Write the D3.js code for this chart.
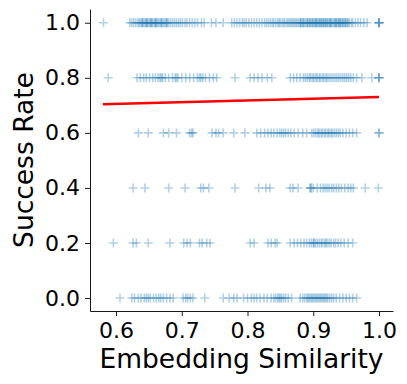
<!DOCTYPE html>
<html>
<head>
<meta charset="utf-8">
<script src="https://cdn.jsdelivr.net/npm/d3@7"></script>
<style>
  body { margin: 0; background: #fff; }
  text { font-family: 'DejaVu Sans', sans-serif; }
</style>
</head>
<body>
<script>
// success-rate levels and the embedding similarities observed at each level
let rateLevels = [1.0, 0.8, 0.6, 0.4, 0.2, 0.0]

let simAt100 = [0.581,
  0.621,0.624,0.627,0.63,0.633,0.635,0.637,0.64,0.641,0.643,0.645,0.647,0.648,0.65,0.652,0.654,0.655,0.657,0.659,0.66,
  0.662,0.664,0.666,0.668,0.67,0.672,0.674,0.676,0.678,0.68,0.683,0.686,0.689,0.692,0.695,0.698,0.701,0.705,0.708,0.712,
  0.639,0.646,0.653,0.661,0.669,0.677,
  0.716,0.72,0.724,0.73,0.734,0.745,0.752,0.763,0.776,0.78,0.784,0.788,0.792,0.795,0.798,0.802,0.806,0.81,0.814,0.818,
  0.822,0.826,0.829,0.832,0.835,0.838,0.84,0.843,0.846,0.848,0.85,0.853,0.855,0.857,0.86,0.862,0.864,0.866,0.868,0.87,
  0.872,0.874,0.876,0.878,0.88,0.882,0.884,0.886,0.888,0.89,0.892,0.894,0.896,0.898,0.9,0.902,0.904,0.906,0.908,0.91,
  0.912,0.914,0.916,0.918,0.92,0.922,0.924,0.926,0.928,0.93,0.932,0.934,0.936,0.938,0.94,0.942,0.944,0.946,0.948,0.95,
  0.952,0.955,0.958,0.96,0.885,0.895,0.905,0.915,0.925,0.935,0.945,0.912,0.921,0.933,0.941,0.903,
  0.881,0.891,0.899,0.909,0.918,0.927,0.939,0.949,0.953,
  0.964,0.968,0.972,0.977,0.982,1.0,1.0,1.0,1.0]

let simAt80 = [0.588,
  0.632,0.637,0.642,0.646,0.651,0.656,0.66,0.664,0.667,0.669,0.671,0.675,0.68,0.686,0.69,0.692,0.694,0.7,0.706,0.712,
  0.718,0.724,0.727,0.729,0.732,0.736,0.742,0.748,0.753,0.781,0.804,0.81,0.816,0.822,0.83,0.837,
  0.865,0.87,0.875,0.88,0.885,0.888,0.891,0.894,0.896,0.899,0.901,0.904,0.906,0.909,0.911,0.914,0.916,0.919,0.921,
  0.924,0.927,0.93,0.933,0.936,0.939,0.942,0.945,0.948,0.951,0.954,0.957,0.961,0.966,0.974,0.989,1.0,1.0,1.0]

let simAt60 = [0.634,0.649,0.672,0.68,0.692,0.712,0.715,0.717,0.746,0.752,0.756,0.763,0.779,0.796,
  0.814,0.82,0.826,0.831,0.836,0.84,0.845,0.849,0.852,0.855,0.858,0.862,0.866,0.871,0.877,0.884,0.89,
  0.898,0.901,0.904,0.907,0.909,0.912,0.914,0.917,0.919,0.922,0.924,0.927,0.929,0.932,0.935,0.938,0.941,
  0.945,0.95,0.955,0.96,0.966,1.0,1.0]

let simAt40 = [0.626,0.644,0.68,0.705,0.729,0.733,0.741,0.781,0.817,0.828,0.834,0.865,0.869,0.877,
  0.895,0.896,0.897,0.9,0.906,0.911,0.915,0.918,0.921,0.924,0.928,0.931,0.935,0.939,0.943,0.948,0.953,
  0.957,0.961,0.979,0.999]

let simAt20 = [0.596,0.626,0.631,0.649,0.682,0.703,0.708,0.713,0.727,0.731,0.738,0.743,0.804,0.81,
  0.831,0.836,0.842,0.845,0.865,0.871,0.876,0.881,0.886,0.89,0.894,0.897,0.9,0.901,0.903,0.906,0.909,
  0.912,0.914,0.917,0.919,0.921,0.924,0.927,0.931,0.934,0.938,0.942,0.947,0.953,0.96]

let simAt0 = [0.606,0.624,0.628,0.634,0.638,0.643,0.646,0.649,0.652,0.657,0.661,0.665,0.668,0.672,0.677,
  0.682,0.687,0.702,0.706,0.709,0.713,0.717,0.735,0.763,0.772,0.779,0.784,0.794,0.8,0.806,0.81,0.814,
  0.819,0.825,0.83,0.836,0.84,0.843,0.846,0.848,0.85,0.852,0.855,0.858,0.862,0.867,0.88,0.884,0.887,
  0.89,0.892,0.894,0.896,0.898,0.9,0.902,0.904,0.906,0.908,0.91,0.912,0.914,0.916,0.918,0.92,0.922,
  0.925,0.928,0.931,0.935,0.94,0.945,0.95,0.955,0.96,0.966]

// fitted trend line end points
let trendX = [0.58, 1.0]
let trendY = [0.704, 0.730]

let xTicks = [0.6, 0.7, 0.8, 0.9, 1.0]
let yTicks = [0.0, 0.2, 0.4, 0.6, 0.8, 1.0]

let width = 407
let height = 384
let padL = 90, padR = 393, padT = 9, padB = 311

let rows = [simAt100, simAt80, simAt60, simAt40, simAt20, simAt0]
let points = []
rows.forEach((row, i) => {
  row.forEach(s => points.push({x: s, y: rateLevels[i]}))
})

let svg = d3.select('body').append('svg').attr('width', width).attr('height', height)

let xScale = d3.scaleLinear().domain([0.5604, 1.0213]).range([padL, padR])
let yScale = d3.scaleLinear().domain([-0.047, 1.05]).range([padB, padT])

// points as "+" markers
svg.append('g')
  .selectAll('path')
  .data(points)
  .enter()
  .append('path')
  .attr('d', 'M-4.5,0H4.5M0,-4.5V4.5')
  .attr('transform', d => 'translate(' + xScale(d.x) + ',' + yScale(d.y) + ')')
  .attr('stroke', '#1f77b4')
  .attr('stroke-width', 1.6)
  .attr('stroke-opacity', 0.34)
  .attr('fill', 'none')

svg.append('line')
  .attr('x1', xScale(trendX[0])).attr('y1', yScale(trendY[0]))
  .attr('x2', xScale(trendX[1])).attr('y2', yScale(trendY[1]))
  .attr('stroke', 'red')
  .attr('stroke-width', 2.5)

let xAxis = d3.axisBottom(xScale).tickValues(xTicks).tickFormat(d3.format('.1f'))
  .tickSize(5).tickSizeOuter(0).tickPadding(6.5)
let yAxis = d3.axisLeft(yScale).tickValues(yTicks).tickFormat(d3.format('.1f'))
  .tickSize(5).tickSizeOuter(0).tickPadding(5)

let gx = svg.append('g').attr('transform', 'translate(0,' + padB + ')').call(xAxis)
let gy = svg.append('g').attr('transform', 'translate(' + padL + ',0)').call(yAxis)

;[gx, gy].forEach(g => {
  g.selectAll('path, line').attr('stroke', '#000').attr('stroke-width', 0.9)
  g.selectAll('text').attr('fill', '#000').style('font-size', '22px')
})

svg.append('text')
  .attr('x', (padL + padR) / 2).attr('y', 368)
  .attr('text-anchor', 'middle')
  .style('font-size', '26.5px')
  .text('Embedding Similarity')

svg.append('text')
  .attr('transform', 'translate(33,' + (padT + padB) / 2 + ') rotate(-90)')
  .attr('text-anchor', 'middle')
  .style('font-size', '26.5px')
  .text('Success Rate')
</script>
</body>
</html>
